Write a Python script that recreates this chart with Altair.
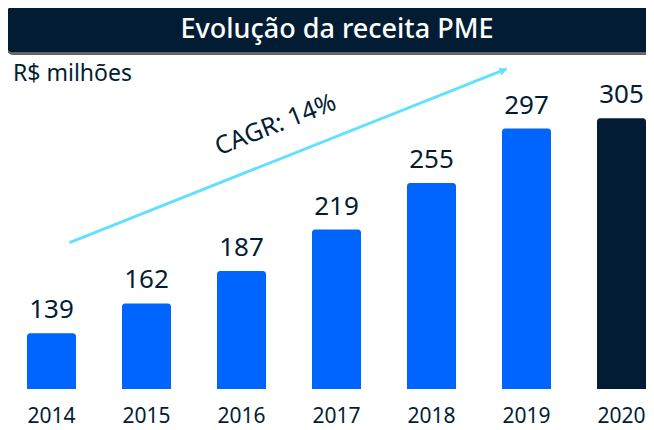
import altair as alt
import pandas as pd

# ---- data ----
years = ["2014", "2015", "2016", "2017", "2018", "2019", "2020"]
revenue = [139, 162, 187, 219, 255, 297, 305]
highlight_year = "2020"
axis_floor = 96

title_text = "Evolução da receita PME"
unit_text = "R$ milhões"

arrow_start_year = "2014"
arrow_end_year = "2019"
arrow_start_value = 209
arrow_end_value = 343
cagr_text = "CAGR: 14%"
cagr_year = "2016"
cagr_value = 300

# ---- style ----
BLUE = "#0064FF"
NAVY = "#021D33"
CYAN = "#62E1FF"
FONT = "Noto Sans"

df = pd.DataFrame({"ano": years, "receita": revenue})
arrow_df = pd.DataFrame({"x": [arrow_start_year], "x2": [arrow_end_year],
                         "y": [arrow_start_value], "y2": [arrow_end_value]})
head_df = pd.DataFrame({"x": [arrow_end_year], "y": [arrow_end_value - 1]})
cagr_df = pd.DataFrame({"x": [cagr_year], "y": [cagr_value], "t": [cagr_text]})

xscale = alt.Scale(domain=years, range=[0, 657], paddingInner=0.4842, paddingOuter=0.2)
yscale = alt.Scale(domain=[axis_floor, 390], zero=False, nice=False)

x_enc = alt.X("ano:N", scale=xscale,
              axis=alt.Axis(title=None, labelAngle=0, domain=False, ticks=False,
                            labelFontSize=21, labelColor=NAVY, labelFont=FONT,
                            labelPadding=16))
y_enc = alt.Y("receita:Q", scale=yscale, axis=None)

bars = alt.Chart(df).mark_bar(cornerRadiusTopLeft=3, cornerRadiusTopRight=3).encode(
    x=x_enc, y=y_enc, y2=alt.datum(axis_floor),
    color=alt.condition(alt.datum.ano == highlight_year, alt.value(NAVY), alt.value(BLUE)),
)

labels = alt.Chart(df).mark_text(baseline="alphabetic", dy=-15, fontSize=26,
                                 font=FONT, color=NAVY).encode(
    x=alt.X("ano:N", scale=xscale), y=alt.Y("receita:Q", scale=yscale),
    text="receita:Q",
)

arrow = alt.Chart(arrow_df).mark_rule(color=CYAN, strokeWidth=3,
                                      xOffset=18, x2Offset=-20).encode(
    x=alt.X("x:N", scale=xscale), x2="x2:N",
    y=alt.Y("y:Q", scale=yscale), y2="y2:Q",
)

head = alt.Chart(head_df).mark_point(shape="triangle-right", filled=True, size=70,
                                     angle=338.5, color=CYAN, opacity=1,
                                     xOffset=-23).encode(
    x=alt.X("x:N", scale=xscale), y=alt.Y("y:Q", scale=yscale),
)

cagr = alt.Chart(cagr_df).mark_text(angle=338.5, fontSize=25, font=FONT, color=NAVY,
                                    xOffset=34).encode(
    x=alt.X("x:N", scale=xscale), y=alt.Y("y:Q", scale=yscale), text="t:N",
)

shadow = alt.Chart(df).mark_rect(color="#000000", opacity=0.12, cornerRadius=6).encode(
    x=alt.value(-1), x2=alt.value(720), y=alt.value(1), y2=alt.value(47),
)
banner = alt.Chart(df).mark_rect(color=NAVY, cornerRadius=6).encode(
    x=alt.value(-1), x2=alt.value(720), y=alt.value(-1), y2=alt.value(44),
)
title = alt.Chart(pd.DataFrame({"t": [title_text]})).mark_text(
    fontSize=27, font=FONT, fontWeight=500, color="white", baseline="alphabetic"
).encode(x=alt.value(329), y=alt.value(30), text="t:N")

unit = alt.Chart(pd.DataFrame({"t": [unit_text]})).mark_text(
    fontSize=23, font=FONT, color=NAVY, align="left", baseline="alphabetic"
).encode(x=alt.value(5), y=alt.value(73), text="t:N")

chart = alt.layer(shadow, banner, title, unit, bars, labels, arrow, head, cagr).properties(
    width=638, height=381,
    padding={"left": 0, "top": 0, "right": 0, "bottom": 41},
    autosize=alt.AutoSizeParams(type="none"),
).configure_view(stroke=None)

chart.save("out.html", embed_options={"renderer": "svg", "actions": False})
